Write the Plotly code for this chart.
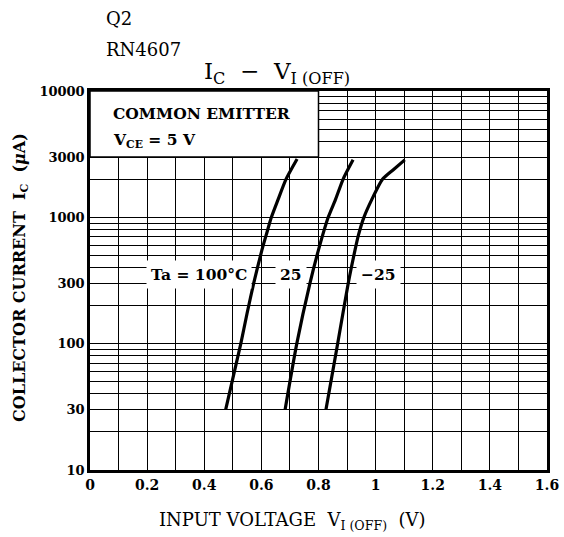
import plotly.graph_objects as go

# Data (IC in uA vs VI(OFF) in V)
v_100 = [0.475, 0.528, 0.550, 0.573, 0.602, 0.617, 0.635, 0.658, 0.686, 0.725]
i_100 = [30, 100, 174, 300, 552, 726, 1000, 1374, 2000, 2900]
v_25 = [0.683, 0.724, 0.770, 0.800, 0.834, 0.859, 0.886, 0.921]
i_25 = [30, 100, 300, 552, 1000, 1374, 2000, 2850]
v_m25 = [0.826, 0.867, 0.904, 0.928, 0.940, 0.959, 0.986, 1.024, 1.061, 1.102]
i_m25 = [30, 100, 300, 552, 726, 1000, 1374, 2000, 2371, 2850]

series = [(v_100, i_100), (v_25, i_25), (v_m25, i_m25)]

y_labels = {10: "10", 30: "30", 100: "100", 300: "300", 1000: "1000", 3000: "3000", 10000: "10000"}
y_grid = [m * 10 ** d for d in range(1, 4) for m in range(1, 10)] + [10000]
x_grid = [round(i * 0.1, 1) for i in range(17)]
x_labels = {0.0: "0", 0.2: "0.2", 0.4: "0.4", 0.6: "0.6", 0.8: "0.8", 1.0: "1", 1.2: "1.2", 1.4: "1.4", 1.6: "1.6"}

SERIF = "DejaVu Serif"
fig = go.Figure()
for v, i in series:
    fig.add_trace(go.Scatter(x=v, y=i, mode="lines", line=dict(color="black", width=3.2, shape="spline", smoothing=0.6),
                             showlegend=False, hoverinfo="skip"))

fig.update_layout(
    width=564, height=537,
    margin=dict(l=90, r=17, t=91, b=67),
    paper_bgcolor="white", plot_bgcolor="white",
    font=dict(family=SERIF, color="black"),
    showlegend=False,
)
fig.update_xaxes(
    range=[0, 1.6], tickvals=x_grid, automargin=False,
    ticktext=[x_labels.get(x, "") for x in x_grid],
    showgrid=True, gridcolor="black", gridwidth=1.2,
    showline=True, linecolor="black", linewidth=2.5, mirror=True,
    ticks="", zeroline=False,
    tickfont=dict(family=SERIF, size=14, color="black", weight="bold"),
)
fig.update_yaxes(
    type="log", range=[1, 4], tickvals=y_grid, automargin=False,
    ticktext=[y_labels.get(y, "") for y in y_grid],
    showgrid=True, gridcolor="black", gridwidth=1.2,
    showline=True, linecolor="black", linewidth=2.5, mirror=True,
    ticks="", zeroline=False,
    tickfont=dict(family=SERIF, size=13, color="black", weight="bold"),
)

# White legend box covering the grid in the upper-left
fig.add_shape(type="rect", xref="x", yref="y", x0=0, x1=0.8, y0=3000, y1=10000,
              fillcolor="white", line=dict(color="black", width=1.5), layer="between")

ann = []
def A(text, x, y, xref="paper", yref="paper", size=14, bold=False, xanchor="left", yanchor="middle", **kw):
    ann.append(dict(text=text, x=x, y=y, xref=xref, yref=yref, showarrow=False,
                    xanchor=xanchor, yanchor=yanchor,
                    font=dict(family=SERIF, size=size, color="black", weight="bold" if bold else "normal"), **kw))

def px(xp):
    return (xp - 90) / (547 - 90)
def py(yp):
    return (470 - yp) / (470 - 91)

A("Q2", px(104), py(18), size=18)
A("RN4607", px(104), py(50), size=18)
A("I<sub>C</sub>  −  V<sub>I (OFF)</sub>", px(277), py(73), size=23, xanchor="center")
A("COMMON EMITTER", px(111), py(114), size=15.5, bold=True)
A("V<sub>CE</sub> = 5 V", px(111), py(140), size=15.5, bold=True)
A("INPUT VOLTAGE  V<sub>I (OFF)</sub>  (V)", px(292), py(521), size=18, xanchor="center")
A("COLLECTOR CURRENT  I<sub>C</sub>  (<i>μ</i>A)", px(20), py(278), size=16, bold=True, xanchor="center", textangle=-90)

for text, xv in [("Ta = 100°C", 0.382), ("25", 0.705), ("−25", 1.01)]:
    ann.append(dict(text=text, x=xv, y=2.544, xref="x", yref="y", showarrow=False,
                    xanchor="center", yanchor="middle", bgcolor="white", borderpad=4,
                    font=dict(family=SERIF, size=15.5, color="black", weight="bold")))

fig.update_layout(annotations=ann)
fig.write_html("out.html")
